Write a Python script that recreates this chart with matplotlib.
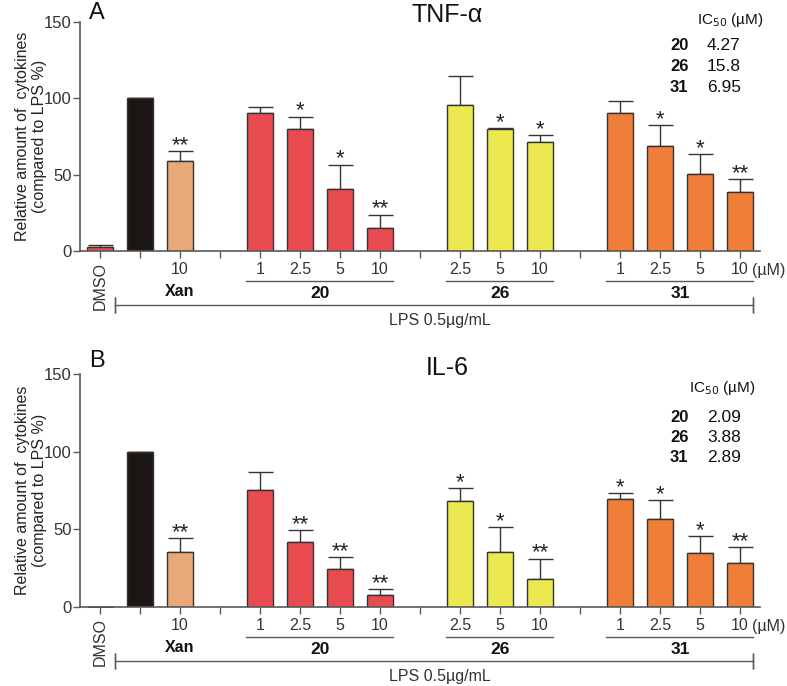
import matplotlib
matplotlib.use("Agg")
import matplotlib.pyplot as plt
from matplotlib.transforms import offset_copy

plt.rcParams['font.family'] = ['Liberation Sans', 'DejaVu Sans']

# ---- data ----
slots = [0, 1, 2, 4, 5, 6, 7, 9, 10, 11, 13, 14, 15, 16]
conc_labels = ["", "", "10", "1", "2.5", "5", "10", "2.5", "5", "10", "1", "2.5", "5", "10"]
groups = ["DMSO", "LPS", "Xan", "20", "20", "20", "20", "26", "26", "26", "31", "31", "31", "31"]

tnf_values = [2.5, 100, 59, 90.6, 79.7, 40.4, 15.3, 95.6, 79.7, 71.4, 90.6, 69, 50.2, 38.9]
tnf_errors = [1.2, 0, 6.7, 3.7, 8.3, 16.2, 8.5, 18.8, 0.6, 4.6, 7.9, 13.3, 13.1, 8.3]
tnf_stars = ["", "", "**", "", "*", "*", "**", "", "*", "*", "", "*", "*", "**"]

il6_values = [0, 100, 35.3, 75.3, 42, 24.2, 8, 68.2, 35.3, 18.2, 69.7, 56.9, 34.6, 28.4]
il6_errors = [0, 0, 9.1, 11.7, 7.4, 7.8, 3.3, 8.6, 16.2, 13, 3.7, 11.7, 11.3, 10.3]
il6_stars = ["", "", "**", "", "**", "**", "**", "*", "*", "**", "*", "*", "*", "**"]

ic50_compounds = ["20", "26", "31"]
tnf_ic50 = ["4.27", "15.8", "6.95"]
il6_ic50 = ["2.09", "3.88", "2.89"]

group_spans = {"20": (4, 7), "26": (9, 11), "31": (13, 16)}

colors = {"DMSO": "#e84c50", "LPS": "#1c1714", "Xan": "#e9a878",
          "20": "#e84c50", "26": "#ece84f", "31": "#ef7e38"}

W, H = 787, 686
fig = plt.figure(figsize=(W / 100, H / 100), dpi=100)

axis_gray = "#5a5a5a"
text_gray = "#333333"
FS = 11.5


def make_panel(rect_px, values, errors, stars, title, letter, ic50, ic50_pos):
    x0, ytop, x1, ybot = rect_px
    ax = fig.add_axes([x0 / W, 1 - ybot / H, (x1 - x0) / W, (ybot - ytop) / H])
    cols = [colors[g] for g in groups]
    ax.bar(slots, values, width=0.67, color=cols, edgecolor="#333333", linewidth=1.0, zorder=2)
    ax.errorbar(slots, values, yerr=[[0] * len(errors), errors], fmt="none",
                ecolor="#333333", elinewidth=1.0, capsize=9, capthick=1.0, zorder=1)
    for s, v, e, st in zip(slots, values, errors, stars):
        if st:
            ax.annotate(st, xy=(s, v + e), xytext=(0, -5), textcoords="offset pixels",
                        ha="center", va="bottom", fontsize=16, color="#222222")
    ax.set_xlim(-0.5, 16.5)
    ax.set_ylim(0, 150)
    ax.set_yticks([0, 50, 100, 150])
    ax.tick_params(axis="y", direction="out", length=5, width=1, color=axis_gray,
                   labelsize=12, labelcolor=text_gray, pad=1)
    ax.set_xticks(range(17))
    lab_map = {s: l for s, l in zip(slots, conc_labels)}
    ax.set_xticklabels([lab_map.get(i, "") for i in range(17)])
    ax.tick_params(axis="x", direction="out", length=5, width=1, color=axis_gray,
                   labelsize=FS, labelcolor=text_gray, pad=3)
    for sp in ["top", "right"]:
        ax.spines[sp].set_visible(False)
    for sp in ["left", "bottom"]:
        ax.spines[sp].set_color(axis_gray)
        ax.spines[sp].set_linewidth(1.2)

    xt = ax.get_xaxis_transform()
    # DMSO label
    ax.text(0, 0, "DMSO", transform=offset_copy(xt, fig, y=-11, units="dots"),
            rotation=90, ha="center", va="top", fontsize=FS, color=text_gray)
    # (uM)
    ax.text(16.3, 0, "(\u00b5M)", transform=offset_copy(xt, fig, y=-20, units="dots"),
            ha="left", va="center", fontsize=FS, color=text_gray)
    # Xan label
    ax.text(2, 0, "Xan", transform=offset_copy(xt, fig, y=-41, units="dots"),
            ha="center", va="center", fontsize=FS, fontweight="bold", color="#111111")
    # group lines and labels
    for g, (a, b) in group_spans.items():
        ax.plot([a - 0.35, b + 0.33], [0, 0], transform=offset_copy(xt, fig, y=-30, units="dots"),
                color=axis_gray, lw=1.0, clip_on=False)
        ax.text((a + b) / 2, 0, g, transform=offset_copy(xt, fig, y=-42, units="dots"),
                ha="center", va="center", fontsize=12.5, fontweight="bold", color="#111111")
    # LPS line
    tl = offset_copy(xt, fig, y=-54, units="dots")
    ax.plot([0.38, 16.33], [0, 0], transform=tl, color=axis_gray, lw=1.0, clip_on=False)
    for xx in (0.38, 16.33):
        ax.plot([xx, xx], [0, 0], transform=tl, color=axis_gray, lw=1.0, clip_on=False,
                marker="|", markersize=12, markeredgewidth=1.0)
    ax.text(8.5, 0, "LPS 0.5\u00b5g/mL", transform=offset_copy(xt, fig, y=-70, units="dots"),
            ha="center", va="center", fontsize=FS, color=text_gray)

    # title and letter
    fig.text(447 / W, 1 - (ytop - title[1]) / H, title[0], ha="center", va="center",
             fontsize=18, color="#111111")
    fig.text(97 / W, 1 - (ytop - letter[1]) / H, letter[0], ha="center", va="center",
             fontsize=17, color="#111111")

    # y label
    fig.text(31 / W, 1 - (ytop + ybot) / 2 / H, "Relative amount of  cytokines\n(compared to LPS %)",
             rotation=90, ha="center", va="center", multialignment="center",
             fontsize=11.5, color="#222222", linespacing=1.1)

    # IC50 box
    hx, hy, row0, dy = ic50_pos
    fig.text(hx / W, 1 - hy / H, "IC$_{50}$ (\u00b5M)", ha="left", va="center",
             fontsize=11, color="#111111")
    for i, (c, v) in enumerate(zip(ic50_compounds, ic50)):
        yy = 1 - (row0 + i * dy) / H
        fig.text(670 / W, yy, c, ha="left", va="center", fontsize=12,
                 fontweight="bold", color="#111111")
        fig.text(707 / W, yy, v, ha="left", va="center", fontsize=12.5, color="#111111")
    return ax


make_panel((80, 22, 760, 251), tnf_values, tnf_errors, tnf_stars,
           ("TNF-\u03b1", 7), ("A", 9), tnf_ic50, (697, 20, 45, 21.5))
make_panel((80, 374, 760, 607), il6_values, il6_errors, il6_stars,
           ("IL-6", 6), ("B", 13), il6_ic50, (689, 388, 417, 20.5))

fig.savefig("out.png", dpi=100)
